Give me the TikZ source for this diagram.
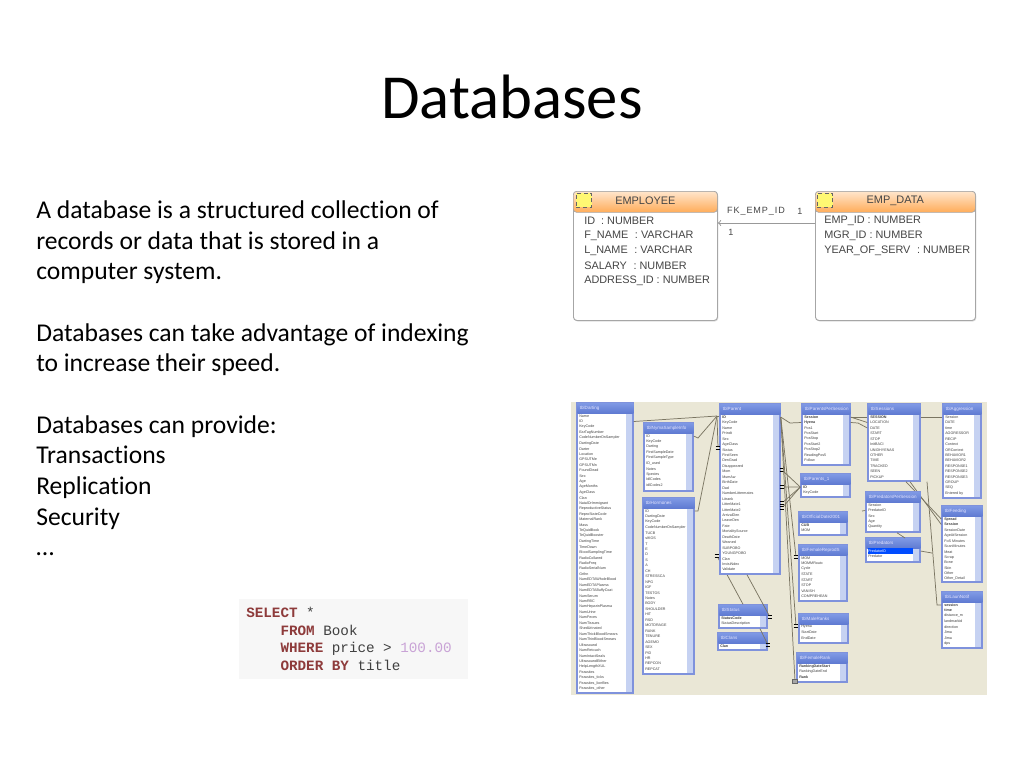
\documentclass[tikz,border=0pt]{standalone}
\usepackage{fontspec}
\setmainfont[Ligatures=NoCommon]{Carlito}
\newfontfamily\dbfont{Liberation Sans}
\newfontfamily\fkfont[LetterSpace=10]{Liberation Sans}
\newfontfamily\sqlfont{Liberation Mono}
\usetikzlibrary{arrows,calc,shadows}
\definecolor{panel}{HTML}{EAE7D6}
\definecolor{linkcol}{HTML}{7A7562}
\definecolor{tblblue}{HTML}{7F92DC}
\definecolor{headtop}{HTML}{7E98E4}
\definecolor{headbot}{HTML}{5F7AD2}
\definecolor{scrollcol}{HTML}{C6D2F2}
\definecolor{sqlkey}{HTML}{8E3B3B}
\definecolor{sqlnum}{HTML}{C9A3D6}
\definecolor{ertext}{HTML}{454545}
\tikzset{>=to}
\tikzstyle{bodytext}=[anchor=north west,align=left,inner sep=0pt,font=\fontsize{19.2}{23}\selectfont,text=black]
\tikzstyle{erbox}=[rectangle,draw=gray!70,fill=white,rounded corners=2.5pt,line width=0.7pt,minimum width=108pt,minimum height=96.75pt,anchor=north west,drop shadow={shadow xshift=0.6pt,shadow yshift=-0.8pt,opacity=0.25}]
\tikzstyle{erhead}=[rectangle,draw=gray!70,top color=orange!20,bottom color=orange!65,rounded corners=2.5pt,line width=0.5pt,minimum height=15.75pt,anchor=north west,inner sep=0pt,font=\dbfont\fontsize{8.2}{9}\selectfont,text=ertext]
\tikzstyle{ericon}=[rectangle,draw=black!60,densely dashed,fill=yellow!55,line width=0.5pt,minimum width=11.5pt,minimum height=10.5pt,inner sep=0pt]
\tikzstyle{errow}=[anchor=west,inner sep=0pt,font=\dbfont\fontsize{8.15}{10}\selectfont,text=ertext]
\tikzstyle{fklabel}=[inner sep=0pt,font=\fkfont\fontsize{6.8}{8}\selectfont,text=ertext]
\tikzstyle{fkline}=[draw=gray!80,line width=0.7pt]
\tikzstyle{dbframe}=[rectangle,draw=tblblue,fill=white,line width=1.1pt,inner sep=0pt]
\tikzstyle{dbhead}=[rectangle,top color=headtop,bottom color=headbot,inner sep=0pt,anchor=north west,minimum height=7.5pt,font=\dbfont\fontsize{3.4}{4}\selectfont,text=blue!10]
\tikzstyle{dbscroll}=[rectangle,fill=scrollcol,inner sep=0pt,anchor=north east,minimum width=4.5pt]
\tikzstyle{dbrow}=[anchor=west,inner sep=0pt,align=left,minimum height=4pt,font=\dbfont\fontsize{2.75}{4}\selectfont,text=black!75]
\tikzstyle{dblink}=[draw=linkcol,line width=0.55pt]
\tikzstyle{keymark}=[rectangle,inner sep=0pt,minimum width=3.6pt,minimum height=2.2pt,path picture={\draw[black,line width=1.2pt] (path picture bounding box.north west) -- (path picture bounding box.north east) (path picture bounding box.south west) -- (path picture bounding box.south east);}]
\tikzstyle{keybox}=[rectangle,fill=gray!70,draw=black!60,line width=0.3pt,inner sep=0pt,minimum width=3.6pt,minimum height=3pt]

\newcommand{\dbtable}[7]{
	\pgfmathsetmacro{\tblw}{(#4-#2)*0.75}
	\pgfmathsetmacro{\tblh}{(#5-#3)*0.75}
	\pgfmathsetmacro{\rowtw}{(#4-#2-9)*0.75}
	\node[dbframe,minimum width=\tblw pt,minimum height=\tblh pt] (#1) at ({(#2+#4)/2},{(#3+#5)/2}) {};
	\node[dbhead,minimum width=\tblw pt,text width=\tblw pt] (#1-head) at (#2,#3) {\hspace*{2pt}#6};
	\node[dbscroll,minimum height=\tblh pt-8.5pt] (#1-scroll) at (#4-1,#3+10.5) {};
	\foreach \rowname [count=\rowno] in {#7} {
		\node[dbrow,text width=\rowtw pt] (#1-\rowno) at (#2+2,#3+7.6+\rowno*5.45) {\rowname};
	};
}

\begin{document}
\begin{tikzpicture}[x=0.75pt,y=-0.75pt]
\useasboundingbox (0,0) rectangle (1024,768);

\node[font=\fontsize{47}{56}\selectfont,inner sep=0pt] (title) at (512,97) {Databases};

\node[bodytext] (body) at (36,200.5) {A database is a structured collection of\\
records or data that is stored in a\\
computer system.\\[23pt]
Databases can take advantage of indexing\\
to increase their speed.\\[23pt]
Databases can provide:\\
Transactions\\
Replication\\
Security\\
\dots};

\node[rectangle,fill=black!3,minimum width=171.75pt,minimum height=60pt,inner sep=0pt] (sqlbox) at (353.5,639) {};
\node[anchor=north west,inner sep=0pt,align=left,font=\sqlfont\fontsize{10.7}{13.1}\selectfont,text=black!75] (sql) at (246,607) {\textcolor{sqlkey}{\bfseries SELECT} *\\
~~~~\textcolor{sqlkey}{\bfseries FROM} Book\\
~~~~\textcolor{sqlkey}{\bfseries WHERE} price > \textcolor{sqlnum}{100.00}\\
~~~~\textcolor{sqlkey}{\bfseries ORDER BY} title};

\node[erbox] (employee) at (573,191) {};
\node[erbox,minimum width=120pt] (empdata) at (815,191) {};
\node[erhead,minimum width=108pt] (employeehead) at (573,191) {\raisebox{2.4pt}{EMPLOYEE}};
\node[erhead,minimum width=120pt] (empdatahead) at (815,191) {\raisebox{2.4pt}{EMP\_DATA}};
\node[ericon] (employeeicon) at (584,200) {};
\node[ericon] (empdataicon) at (825,200) {};
\foreach \rowname [count=\rowno] in {ID\ \ : NUMBER,F\_NAME\,\, : VARCHAR,L\_NAME\,\, : VARCHAR,SALARY\,\, : NUMBER,ADDRESS\_ID : NUMBER} {
	\node[errow] (employee\rowno) at (584,206.5+\rowno*14.8) {\rowname};
};
\foreach \rowname [count=\rowno] in {EMP\_ID : NUMBER,MGR\_ID : NUMBER,YEAR\_OF\_SERV\,\, : NUMBER} {
	\node[errow] (empdata\rowno) at (824,206.5+\rowno*14.8) {\rowname};
};
\coordinate (fkpos) at (760,223);
\draw[fkline,->] (empdata.west |- fkpos) -- (employee.east |- fkpos);
\node[fklabel] (fkname) at (756,211) {FK\_EMP\_ID};
\node[fklabel] (fkone) at (800,211) {1};
\node[fklabel] (fktwo) at (731,232) {1};

\node[rectangle,fill=panel,minimum width=312pt,minimum height=219.75pt,inner sep=0pt,anchor=north west] (schema) at (571,402) {};

\dbtable{Sessions}{868}{404}{920}{481}{tblSessions}{\textbf{SESSION},LOCATION,DATE,START,STOP,InitBACI,UNIDHYENAS,OTHER,TIME,TRACKED,SEEN,PICKUP}
\dbtable{Feeding}{942}{506}{982}{582}{tblFeeding}{\textbf{Spread},\textbf{Session},SessionDate,AgeAtSession,FoS Minutes,ScanMinutes,Meat,Scrap,Bone,Skin,Other,Other\_Detail}
\dbtable{LaunNotif}{942}{592}{982}{648}{tblLaunNotif}{\textbf{session},\textbf{time},distance\_m,landmarkid,direction,Jima,Jima,dps}
\dbtable{Status}{719}{605}{767}{628}{tblStatus}{\textbf{StatusCode},StatusDescription}

\draw[dblink] (Sessions.south) ++(12,0) -- (Feeding.west |- Feeding-1);
\draw[dblink] (Sessions.south) ++(16,0) -- (Feeding.west |- Feeding-2);
\coordinate (launbend) at (937,605);
\draw[dblink] (Sessions.south) ++(33,0) -- (launbend) -- (LaunNotif.west |- LaunNotif-1);
\node[keymark] (key6) at (717,556) {};
\draw[dblink] (key6) -- (Status.north);

\dbtable{Darting}{577}{403}{633}{693}{tblDarting}{Name,ID,KeyCode,EarTagNumber,CodeNumberOnSampler,DartingDate,Darter,Location,GPSUTMe,GPSUTMn,FoundDead,Sex,Age,AgeMonths,AgeClass,Clan,NatalOrImmigrant,ReproductiveStatus,ReproStateCode,MaternalRank,Mass,TeQuidBook,TeQuidBooster,DartingTime,TimeDown,BloodSamplingTime,RadioCollared,RadioFreq,RadioSerialNum,Grthn,NumEDTAWholeBlood,NumEDTAPlasma,NumEDTABuffyCoat,NumSerum,NumRBC,NumHeparinPlasma,NumUrine,NumFeces,NumTissues,ShedUrinated,NumThickBloodSmears,NumThinBloodSmears,Ultrasound,NumRetouch,NumIntactSeals,UltrasoundEither,HeIpLengthXUL,Parasites,Parasites\_ticks,Parasites\_lionflies,Parasites\_other}
\dbtable{Nyma}{644}{423}{693}{491}{tblNymaSampleInfo}{ID,KeyCode,Darting,FirstSampleDate,FirstSampleType,ID\_used,Notes,Species,IdlCodes,idlCodes2}
\dbtable{Hormones}{643}{498}{694}{674}{tblHormones}{ID,DartingDate,KeyCode,CodeNumberOnSampler,TUCB,sIKOS,T,E,D,S,A,CH,STRESSCA,NPG,IGF,TESTOS,Notes,BODY,SHOULDER,HIT,RSD,MOTDRAGE,RANK,TENURE,AGEMO,SEX,PID,HR,REPCON,REPCAT}
\dbtable{Parent}{720}{404}{780}{574}{tblParent}{\textbf{ID},KeyCode,Name,Prindt,Sex,AgeClass,Status,FirstSeen,DenGrad,Disappeared,Mom,MumAw,BirthDate,Dad,NumberLittermates,Litrank,LitterMate1,LitterMate2,ArrivalDen,LeaveDen,Fate,MortalitySource,DeathDate,Weaned,SUBPOBO,YOUNGPOBO,Clan,InvisiNdex,Validate}
\dbtable{Clans}{718}{633}{767}{650}{tblClans}{\textbf{Clan}}
\dbtable{PerSession}{802}{404}{850}{465}{tblParentsPerSession}{\textbf{Session},\textbf{Hyena},Pos1,PosStart,PosStop,PosStart2,PosStop2,ReadingPos5,Follow}
\dbtable{ParentsOne}{801}{474}{850}{497}{tblParents\_1}{\textbf{ID},KeyCode}
\dbtable{Official}{799}{512}{847}{535}{tblOfficialDate2001}{\textbf{CUB},MOM}
\dbtable{FemaleRepro}{799}{545}{847}{601}{tblFemaleReprodS}{MOM,MOMMRoutc,Cycle,STATE,START,STOP,VANISH,COMPREHEAN}
\dbtable{MaleRanks}{799}{614}{848}{643}{tblMaleRanks}{Hyena,StartDate,EndDate}
\dbtable{FemaleRank}{797}{653}{847}{682}{tblFemaleRank}{\textbf{RankingDateStart},RankingDateEnd,\textbf{Rank}}
\dbtable{PredSession}{866}{492}{920}{532}{tblPredatorsPerSession}{Session,PredatorID,Sex,Age,Quantity}
\dbtable{Predators}{866}{538}{920}{562}{tblPredators}{PredatorID,Predator}
\dbtable{Aggression}{943}{404}{981}{498}{tblAggression}{Session,DATE,time,AGGRESSOR,RECIP,Context,ORContext,BEHAVIOR1,BEHAVIOR2,RESPONSE1,RESPONSE2,RESPONSE3,GROUP,SEQ,Entered by}

\node[dbrow,text width=33.75pt,fill=blue!70!cyan,text=white] (Predators-sel) at (Predators-1.west) {PredatorID};

\node[keymark] (key1) at (718,448) {};
\node[keymark] (key2) at (782,470) {};
\node[keymark] (key3) at (782,487) {};
\node[keymark] (key4) at (782,503) {};
\node[keymark] (key5) at (782,508) {};
\node[keymark] (key7) at (770,617) {};
\node[keymark] (key8) at (768,645) {};
\node[keymark] (key9) at (796,626) {};
\node[keymark] (key10) at (796,557) {};
\node[keybox] (key11) at (795,681) {};

\coordinate (nymabend) at (698,438);
\coordinate (hormbend) at (698,511);
\coordinate (hyenabend) at (790,423);
\coordinate (sesbend) at (858,423);
\coordinate (stubend) at (862,511);
\coordinate (predtop) at (905,538);
\coordinate (predside) at (932,553);
\coordinate (parentin) at (717,416);

\draw[dblink] (Darting.east |- Darting-2) -- (parentin);
\draw[dblink] (Nyma.east |- Nyma-1) -- (nymabend) -- (parentin);
\draw[dblink] (Hormones.east |- Hormones-1) -- (hormbend) -- (parentin);
\draw[dblink] (key1) -- (parentin);
\draw[dblink] (parentin) -- (Parent.west |- parentin);
\draw[dblink] (Parent.south) ++(-3,0) -- (key7);
\draw[dblink] (Status.south) ++(17,0) -- (key8);
\draw[dblink] (Parent.east |- Parent-1) -- (hyenabend) -- (PerSession.west |- PerSession-2);
\draw[dblink] (Parent.east |- Parent-1) -- (key10);
\draw[dblink] (Parent.east |- Parent-1) -- (key9);
\draw[dblink] (Parent.east |- Parent-1) -- (key11);
\foreach \i in {2,...,5} {
	\draw[dblink] (key\i) -- (ParentsOne.west |- ParentsOne-1);
};
\draw[dblink] (PerSession.east |- PerSession-1) -- (Sessions.west |- Sessions-1);
\draw[dblink] (PerSession.east |- PerSession-1) -- (Sessions.west |- Sessions-2);
\draw[dblink] (PerSession.east |- PerSession-2) -- (sesbend) -- (Sessions.west |- Sessions-3);
\draw[dblink] (Sessions.east |- Sessions-1) -- (Aggression.west |- Aggression-1);
\draw[dblink] (stubend) -- (PredSession.west |- PredSession-2);
\draw[dblink] (PredSession.south) ++(4,0) -- (predtop);
\draw[dblink] (Predators.east |- Predators-1) -- (predside);

\end{tikzpicture}
\end{document}
